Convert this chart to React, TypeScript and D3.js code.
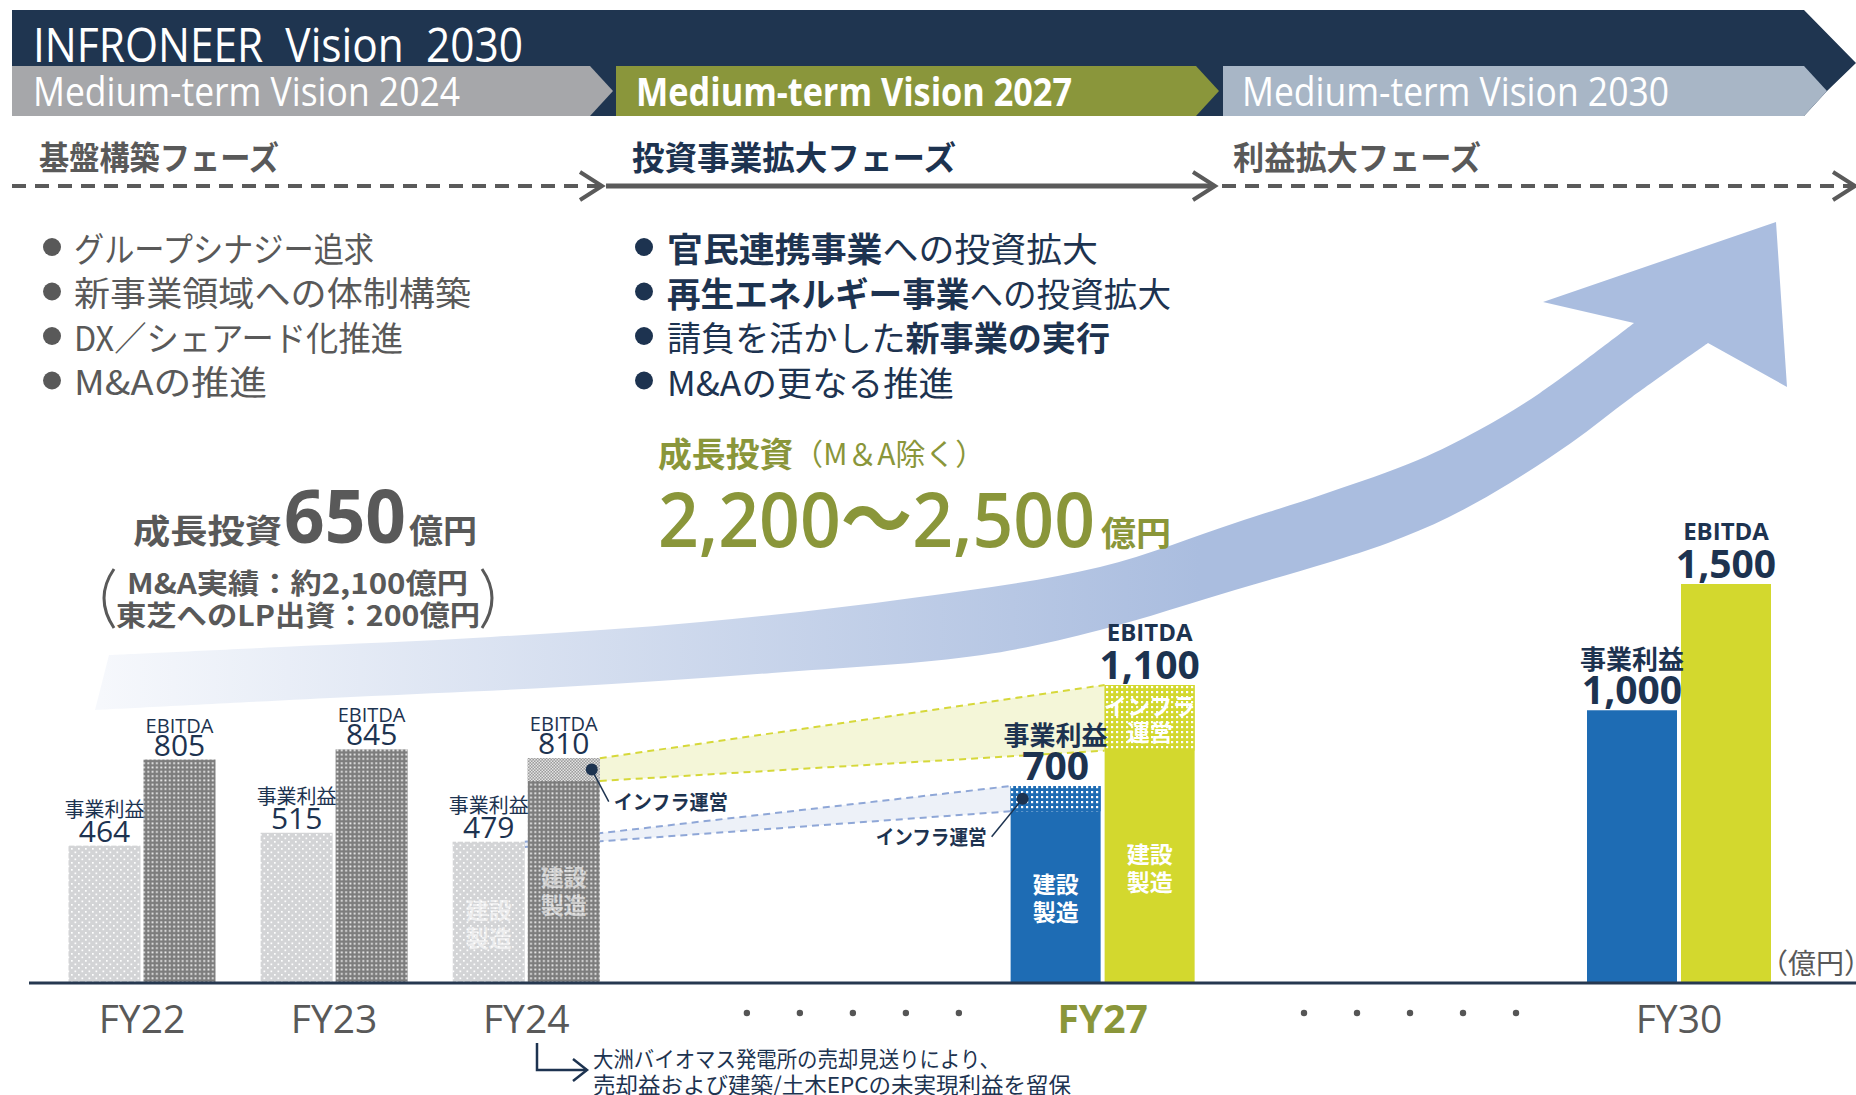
import { useMemo } from "react";
import * as d3 from "d3";

const WIDTH = 1856;
const HEIGHT = 1095;

const NAVY = "#1f3550";
const TEXT_NAVY = "#1d3350";
const GRAY_TEXT = "#595959";
const OLIVE = "#8a963a";
const BLUE = "#1e6cb4";
const YELLOW = "#d3d82e";

const JP = "'Noto Sans CJK JP', 'Noto Sans', sans-serif";
const LAT = "'Open Sans', 'Noto Sans CJK JP', sans-serif";

// header bands
const visionLabels = ["Medium-term Vision 2024", "Medium-term Vision 2027", "Medium-term Vision 2030"];
const visionColors = ["#a6a7aa", "#8a963b", "#a8b6c6"];
const phaseLabels = ["基盤構築フェーズ", "投資事業拡大フェーズ", "利益拡大フェーズ"];
const phaseColors = [GRAY_TEXT, TEXT_NAVY, GRAY_TEXT];
const phaseDashed = [true, false, true];

const phase1Bullets = ["グループシナジー追求", "新事業領域への体制構築", "DX／シェアード化推進", "M&Aの推進"];
// [text, bold]
const phase2Bullets: [string, boolean][][] = [
  [["官民連携事業", true], ["への投資拡大", false]],
  [["再生エネルギー事業", true], ["への投資拡大", false]],
  [["請負を活かした", false], ["新事業の実行", true]],
  [["M&Aの更なる推進", false]],
];

// chart data (億円)
const years = ["FY22", "FY23", "FY24", "FY27", "FY30"];
const fiscalYear = [22, 23, 24, 27, 30];
const stage = ["actual", "actual", "actual", "plan", "target"];
const bizProfit = [464, 515, 479, 700, 1000]; // 事業利益
const ebitda = [805, 845, 810, 1100, 1500];
const bizProfitInfra = [0, 0, 20, 100, 0]; // インフラ運営 portion
const ebitdaInfra = [0, 0, 90, 260, 0];
const ellipsisAt = [25.7, 28.6];

// decorative growth arrow outline
const arrowUpper: [number, number][] = [
  [109, 655], [281, 647], [491, 637], [701, 622], [912, 598], [1100, 567],
  [1235, 523], [1327, 493], [1418, 460], [1479, 430], [1540, 393], [1634, 323],
];
const arrowHead: [number, number][] = [[1543, 302], [1776, 222], [1787, 387], [1708, 343]];
const arrowLower: [number, number][] = [
  [1708, 343], [1632, 397], [1571, 443], [1510, 483], [1449, 517], [1388, 543],
  [1327, 563], [1235, 590], [1100, 630], [982, 655], [772, 673], [561, 687], [351, 697], [95, 710],
];

function App() {
  const xScale = useMemo(() => d3.scaleLinear().domain([22, 30]).range([142, 1679]), []);
  const yScale = useMemo(() => d3.scaleLinear().domain([-80, 1500]).range([983, 584]), []);
  const baseY = yScale(-80);

  const bars = years.map((label, i) => {
    const plan = stage[i] !== "actual";
    const w = plan ? 90 : 72;
    const gap = plan ? 4 : 3;
    const cx = xScale(fiscalYear[i]);
    return {
      label, i, plan, cx, w,
      opX: cx - gap / 2 - w,
      ebX: cx + gap / 2,
      opTop: yScale(bizProfit[i]),
      ebTop: yScale(ebitda[i]),
      opInfraBottom: yScale(bizProfit[i] - bizProfitInfra[i]),
      ebInfraBottom: yScale(ebitda[i] - ebitdaInfra[i]),
    };
  });

  const arrowPath = useMemo(() => {
    const line = d3.line().curve(d3.curveCatmullRom.alpha(0.5));
    const up = line(arrowUpper) as string;
    const low = (line(arrowLower) as string).replace(/^M/, "L");
    const head = arrowHead.map((p) => `L${p[0]},${p[1]}`).join("");
    return up + head + low + "Z";
  }, []);

  const a = bars[2];
  const b = bars[3];
  const yellowBand = [
    [a.ebX + a.w, a.ebTop], [b.ebX, b.ebTop], [b.ebX, b.ebInfraBottom], [a.ebX + a.w, a.ebInfraBottom],
  ];
  const blueBand = [
    [a.opX + a.w, a.opTop], [b.opX, b.opTop], [b.opX, b.opInfraBottom], [a.opX + a.w, a.opInfraBottom],
  ];
  const pts = (p: number[][]) => p.map((d) => d.join(",")).join(" ");

  const dot24 = { x: a.ebX + a.w - 8, y: (a.ebTop + a.ebInfraBottom) / 2 };
  const dot27 = { x: b.opX + 12, y: (b.opTop + b.opInfraBottom) / 2 };

  // header geometry
  const bandStarts = [12, 616, 1223];
  const bandEnds = [590, 1196, 1804];
  const bandTextX = [33, 636, 1242];
  const bandTextLen = [427, 436, 427];
  const phaseTextX = [39, 632, 1233];
  const phaseTextLen = [240, 324, 248];
  const phaseLineStart = [12, 606, 1222];
  const phaseLineEnd = [602, 1215, 1855];

  const leftLen = [300, 397, 329, 193];
  const rightLen = [431, 504, 443, 287];
  const rowY = [247, 291.5, 336, 380.5];

  return (
    <div style={{ position: "fixed", left: 0, top: 0, width: WIDTH, height: HEIGHT, overflow: "hidden", background: "#fff" }}>
      <svg width={WIDTH} height={HEIGHT} style={{ display: "block" }}>
        <defs>
          <pattern id="pLight" width="7" height="7" patternUnits="userSpaceOnUse">
            <rect width="7" height="7" fill="#d3d4d6" />
            <rect x="1" y="1" width="1.7" height="1.7" fill="#fff" />
            <rect x="4.5" y="4.5" width="1.7" height="1.7" fill="#fff" />
          </pattern>
          <pattern id="pDark" width="4.3" height="4.3" patternUnits="userSpaceOnUse">
            <rect width="4.3" height="4.3" fill="#7d7d7d" />
            <rect x="1.2" y="1.2" width="1.8" height="1.8" fill="#f2f2f2" />
          </pattern>
          <pattern id="pChecker" width="3" height="3" patternUnits="userSpaceOnUse">
            <rect width="3" height="3" fill="#9b9b9b" />
            <rect width="1.5" height="1.5" fill="#e4e4e4" />
            <rect x="1.5" y="1.5" width="1.5" height="1.5" fill="#e4e4e4" />
          </pattern>
          <pattern id="pBlue" width="5" height="5" patternUnits="userSpaceOnUse">
            <rect width="5" height="5" fill={BLUE} />
            <rect x="1" y="1" width="2.2" height="2.2" fill="#fff" />
          </pattern>
          <pattern id="pYellow" width="5" height="5" patternUnits="userSpaceOnUse">
            <rect width="5" height="5" fill={YELLOW} />
            <rect x="1" y="1" width="2.2" height="2.2" fill="#fff" />
          </pattern>
          <linearGradient id="arrowGrad" gradientUnits="userSpaceOnUse" x1="100" y1="0" x2="1200" y2="0">
            <stop offset="0" stopColor="#f6f8fc" />
            <stop offset="1" stopColor="#aabddf" />
          </linearGradient>
        </defs>

        {/* header banner */}
        <polygon points="12,10 1804,10 1856,63 1827,91 1804,116 12,116" fill={NAVY} />
        <text x={33} y={62} fontFamily={LAT} fontSize={47} fill="#fff" textLength={490}
          lengthAdjust="spacingAndGlyphs" style={{ whiteSpace: "pre" }}>
          {"INFRONEER  Vision  2030"}
        </text>
        {visionLabels.map((v, i) => (
          <g key={v}>
            <polygon
              points={`${bandStarts[i]},66 ${bandEnds[i]},66 ${bandEnds[i] + 23},91 ${bandEnds[i]},116 ${bandStarts[i]},116`}
              fill={visionColors[i]}
            />
            <text x={bandTextX[i]} y={106} fontFamily={LAT} fontSize={40} fontWeight={i === 1 ? 700 : 400}
              fill="#fff" textLength={bandTextLen[i]} lengthAdjust="spacingAndGlyphs">
              {v}
            </text>
          </g>
        ))}

        {/* phases */}
        {phaseLabels.map((p, i) => (
          <g key={p}>
            <text x={phaseTextX[i]} y={156} dominantBaseline="central" fontFamily={JP} fontSize={33}
              fontWeight={700} fill={phaseColors[i]} textLength={phaseTextLen[i]} lengthAdjust="spacingAndGlyphs">
              {p}
            </text>
            <line x1={phaseLineStart[i]} x2={phaseLineEnd[i] - 3} y1={186} y2={186} stroke="#5a5a5a"
              strokeWidth={phaseDashed[i] ? 4 : 5} strokeDasharray={phaseDashed[i] ? "14 9" : undefined} />
            <polyline points={`${phaseLineEnd[i] - 22},172 ${phaseLineEnd[i]},186 ${phaseLineEnd[i] - 22},200`}
              fill="none" stroke="#5a5a5a" strokeWidth={4} />
          </g>
        ))}

        {/* bullets */}
        {phase1Bullets.map((t, i) => (
          <g key={t}>
            <circle cx={52} cy={rowY[i]} r={9} fill={GRAY_TEXT} />
            <text x={74} y={rowY[i]} dominantBaseline="central" fontFamily={JP} fontSize={34} fill={GRAY_TEXT}
              textLength={leftLen[i]} lengthAdjust="spacingAndGlyphs">
              {t}
            </text>
          </g>
        ))}
        {phase2Bullets.map((parts, i) => (
          <g key={i}>
            <circle cx={644} cy={rowY[i]} r={9} fill={TEXT_NAVY} />
            <text x={667} y={rowY[i]} dominantBaseline="central" fontFamily={JP} fontSize={34} fill={TEXT_NAVY}
              textLength={rightLen[i]} lengthAdjust="spacingAndGlyphs">
              {parts.map(([s, bold], k) => (
                <tspan key={k} fontWeight={bold ? 700 : 400}>{s}</tspan>
              ))}
            </text>
          </g>
        ))}

        {/* growth arrow */}
        <path d={arrowPath} fill="url(#arrowGrad)" />

        {/* investment callouts */}
        <text x={658} y={452} dominantBaseline="central" fontFamily={JP} fill={OLIVE} textLength={327}
          lengthAdjust="spacingAndGlyphs">
          <tspan fontSize={34} fontWeight={700}>成長投資</tspan>
          <tspan fontSize={30}>（M＆A除く）</tspan>
        </text>
        <text x={658} y={547} fontFamily={LAT} fontSize={76} fontWeight={600} fill={OLIVE} textLength={437}
          lengthAdjust="spacingAndGlyphs">
          2,200〜2,500
        </text>
        <text x={1101} y={531} dominantBaseline="central" fontFamily={JP} fontSize={34} fontWeight={700}
          fill={OLIVE} textLength={70} lengthAdjust="spacingAndGlyphs">
          億円
        </text>

        <text x={133} y={529} dominantBaseline="central" fontFamily={JP} fontSize={33} fontWeight={700}
          fill={GRAY_TEXT} textLength={149} lengthAdjust="spacingAndGlyphs">
          成長投資
        </text>
        <text x={284} y={543} fontFamily={LAT} fontSize={74} fontWeight={700} fill={GRAY_TEXT}
          textLength={122} lengthAdjust="spacingAndGlyphs">
          650
        </text>
        <text x={409} y={529} dominantBaseline="central" fontFamily={JP} fontSize={33} fontWeight={700}
          fill={GRAY_TEXT} textLength={68} lengthAdjust="spacingAndGlyphs">
          億円
        </text>
        <path d="M114,569 Q94,598 114,628" fill="none" stroke={GRAY_TEXT} strokeWidth={3} />
        <path d="M482,569 Q502,598 482,628" fill="none" stroke={GRAY_TEXT} strokeWidth={3} />
        <text x={127} y={582} dominantBaseline="central" fontFamily={JP} fontSize={28} fontWeight={700}
          fill={GRAY_TEXT} textLength={341} lengthAdjust="spacingAndGlyphs">
          M&A実績：約2,100億円
        </text>
        <text x={116} y={614} dominantBaseline="central" fontFamily={JP} fontSize={28} fontWeight={700}
          fill={GRAY_TEXT} textLength={364} lengthAdjust="spacingAndGlyphs">
          東芝へのLP出資：200億円
        </text>

        {/* infra bands between FY24 and FY27 */}
        <polygon points={pts(blueBand)} fill="#edf1f8" />
        <line x1={blueBand[0][0]} y1={blueBand[0][1]} x2={blueBand[1][0]} y2={blueBand[1][1]}
          stroke="#8fa7d7" strokeWidth={2} strokeDasharray="7 5" />
        <line x1={blueBand[3][0]} y1={blueBand[3][1]} x2={blueBand[2][0]} y2={blueBand[2][1]}
          stroke="#8fa7d7" strokeWidth={2} strokeDasharray="7 5" />
        <polygon points={pts(yellowBand)} fill="#f4f6d8" />
        <line x1={yellowBand[0][0]} y1={yellowBand[0][1]} x2={yellowBand[1][0]} y2={yellowBand[1][1]}
          stroke="#d6d83a" strokeWidth={2} strokeDasharray="7 5" />
        <line x1={yellowBand[3][0]} y1={yellowBand[3][1]} x2={yellowBand[2][0]} y2={yellowBand[2][1]}
          stroke="#d6d83a" strokeWidth={2} strokeDasharray="7 5" />

        {/* bars */}
        {bars.map((d) => {
          const i = d.i;
          const actual = stage[i] === "actual";
          const opFill = actual ? "url(#pLight)" : BLUE;
          const ebFill = actual ? "url(#pDark)" : YELLOW;
          const opInfraFill = actual ? "url(#pLight)" : "url(#pBlue)";
          const ebInfraFill = actual ? "url(#pChecker)" : "url(#pYellow)";
          const opNumBase = d.opTop - (actual ? 4 : 6);
          const ebNumBase = d.ebTop - (actual ? 4 : 6);
          const hasSplit = ebitdaInfra[i] > 0;
          const inAlpha = actual ? 0.6 : 1;
          const shift = actual ? 8 : 0;
          const opMid = (d.opInfraBottom + baseY) / 2 + shift;
          const ebMid = (d.ebInfraBottom + baseY) / 2 + shift;
          return (
            <g key={d.label}>
              <rect x={d.opX} y={d.opTop} width={d.w} height={baseY - d.opTop} fill={opFill} />
              <rect x={d.opX} y={d.opTop} width={d.w} height={d.opInfraBottom - d.opTop} fill={opInfraFill} />
              <rect x={d.ebX} y={d.ebTop} width={d.w} height={baseY - d.ebTop} fill={ebFill} />
              <rect x={d.ebX} y={d.ebTop} width={d.w} height={d.ebInfraBottom - d.ebTop} fill={ebInfraFill} />

              {hasSplit && (
                <g fontFamily={JP} fontSize={23} fontWeight={700} fill="#fff" opacity={inAlpha} textAnchor="middle"
                  dominantBaseline="central">
                  <text x={d.opX + d.w / 2} y={opMid - 14}>建設</text>
                  <text x={d.opX + d.w / 2} y={opMid + 14}>製造</text>
                  <text x={d.ebX + d.w / 2} y={ebMid - 14}>建設</text>
                  <text x={d.ebX + d.w / 2} y={ebMid + 14}>製造</text>
                  {!actual && (
                    <>
                      <text x={d.ebX + d.w / 2} y={(d.ebTop + d.ebInfraBottom) / 2 - 13}>インフラ</text>
                      <text x={d.ebX + d.w / 2} y={(d.ebTop + d.ebInfraBottom) / 2 + 13}>運営</text>
                    </>
                  )}
                </g>
              )}

              {actual ? (
                <g fill={TEXT_NAVY} textAnchor="middle">
                  <text x={d.opX + d.w / 2} y={opNumBase} fontFamily={LAT} fontSize={30}>{bizProfit[i]}</text>
                  <text x={d.opX + d.w / 2} y={opNumBase - 33} dominantBaseline="central" fontFamily={JP}
                    fontSize={20}>事業利益</text>
                  <text x={d.ebX + d.w / 2} y={ebNumBase} fontFamily={LAT} fontSize={30}>{ebitda[i]}</text>
                  <text x={d.ebX + d.w / 2} y={ebNumBase - 23} fontFamily={LAT} fontSize={20}>EBITDA</text>
                </g>
              ) : (
                <g fill={TEXT_NAVY} textAnchor="middle" fontWeight={700}>
                  <text x={d.opX + d.w / 2} y={opNumBase} fontFamily={LAT} fontSize={39}>
                    {d3.format(",")(bizProfit[i])}
                  </text>
                  <text x={d.opX + d.w / 2} y={opNumBase - 47} dominantBaseline="central" fontFamily={JP}
                    fontSize={26}>事業利益</text>
                  <text x={d.ebX + d.w / 2} y={ebNumBase} fontFamily={LAT} fontSize={39}>
                    {d3.format(",")(ebitda[i])}
                  </text>
                  <text x={d.ebX + d.w / 2} y={ebNumBase - 38} fontFamily={LAT} fontSize={24}>EBITDA</text>
                </g>
              )}
            </g>
          );
        })}

        {/* infra leaders */}
        <line x1={dot24.x} y1={dot24.y} x2={dot24.x + 17} y2={dot24.y + 32} stroke={TEXT_NAVY} strokeWidth={1.5} />
        <circle cx={dot24.x} cy={dot24.y} r={6} fill={TEXT_NAVY} />
        <text x={dot24.x + 22} y={dot24.y + 32} dominantBaseline="central" fontFamily={JP} fontSize={20}
          fontWeight={700} fill={TEXT_NAVY} textLength={114} lengthAdjust="spacingAndGlyphs">
          インフラ運営
        </text>
        <line x1={dot27.x} y1={dot27.y} x2={dot27.x - 31} y2={dot27.y + 38} stroke={TEXT_NAVY} strokeWidth={1.5} />
        <circle cx={dot27.x} cy={dot27.y} r={6} fill={TEXT_NAVY} />
        <text x={dot27.x - 36} y={dot27.y + 38} dominantBaseline="central" textAnchor="end" fontFamily={JP}
          fontSize={20} fontWeight={700} fill={TEXT_NAVY} textLength={111} lengthAdjust="spacingAndGlyphs">
          インフラ運営
        </text>

        {/* axis */}
        <line x1={29} x2={WIDTH} y1={baseY} y2={baseY} stroke="#263850" strokeWidth={3} />
        {bars.map((d) => (
          <text key={d.label} x={d.cx} y={1033} textAnchor="middle" fontFamily={LAT} fontSize={39}
            fontWeight={d.label === "FY27" ? 700 : 400} fill={d.label === "FY27" ? OLIVE : GRAY_TEXT}>
            {d.label}
          </text>
        ))}
        {ellipsisAt.map((c) =>
          d3.range(5).map((k) => (
            <circle key={`${c}-${k}`} cx={xScale(c) + (k - 2) * 53} cy={1013} r={3.2} fill="#555" />
          ))
        )}
        <text x={1760} y={962} dominantBaseline="central" fontFamily={JP} fontSize={28} fill={GRAY_TEXT}>
          （億円）
        </text>

        {/* footnote */}
        <polyline points="537,1043 537,1070 587,1070" fill="none" stroke={TEXT_NAVY} strokeWidth={2.5} />
        <polyline points="573,1059 587,1070 573,1081" fill="none" stroke={TEXT_NAVY} strokeWidth={2.5} />
        <text x={593} y={1057} dominantBaseline="central" fontFamily={JP} fontSize={22} fill={TEXT_NAVY}
          textLength={407} lengthAdjust="spacingAndGlyphs">
          大洲バイオマス発電所の売却見送りにより、
        </text>
        <text x={593} y={1083} dominantBaseline="central" fontFamily={JP} fontSize={22} fill={TEXT_NAVY}
          textLength={478} lengthAdjust="spacingAndGlyphs">
          売却益および建築/土木EPCの未実現利益を留保
        </text>
      </svg>
    </div>
  );
}

export default App;
